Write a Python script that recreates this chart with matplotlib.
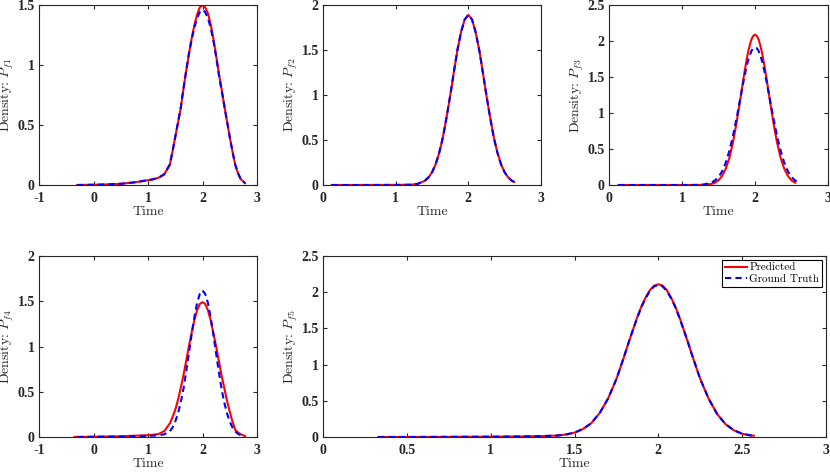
import matplotlib
matplotlib.use('Agg')
import matplotlib.pyplot as plt
import numpy as np

plt.rcParams['mathtext.fontset'] = 'cm'
plt.rcParams['axes.unicode_minus'] = False

# ---- data (time, density) ----
t1 = [-0.3, 0.0, 0.25, 0.5, 0.75, 1.0, 1.1, 1.2, 1.3, 1.4, 1.45, 1.5, 1.55, 1.6, 1.65, 1.7, 1.75, 1.8,
      1.85, 1.9, 1.95, 2.0, 2.05, 2.1, 2.15, 2.2, 2.25, 2.3, 2.35, 2.4, 2.45, 2.5, 2.55, 2.6, 2.65,
      2.7, 2.78]
p1_pred = [0.0, 0.002, 0.005, 0.01, 0.022, 0.04, 0.048, 0.062, 0.09, 0.17, 0.28, 0.40, 0.52, 0.64,
           0.80, 0.95, 1.09, 1.22, 1.33, 1.42, 1.48, 1.50, 1.48, 1.43, 1.34, 1.22, 1.08, 0.93, 0.80,
           0.66, 0.53, 0.40, 0.28, 0.17, 0.10, 0.05, 0.015]
p1_true = [0.0, 0.002, 0.005, 0.01, 0.022, 0.04, 0.048, 0.062, 0.09, 0.17, 0.28, 0.40, 0.52, 0.64,
           0.80, 0.95, 1.09, 1.21, 1.31, 1.39, 1.44, 1.46, 1.44, 1.39, 1.31, 1.20, 1.07, 0.92, 0.79,
           0.66, 0.53, 0.40, 0.28, 0.17, 0.10, 0.05, 0.015]

t2 = [0.12, 0.5, 1.0, 1.2, 1.3, 1.4, 1.45, 1.5, 1.55, 1.6, 1.65, 1.7, 1.75, 1.8, 1.85, 1.9, 1.95,
      2.0, 2.05, 2.1, 2.15, 2.2, 2.25, 2.3, 2.35, 2.4, 2.45, 2.5, 2.55, 2.6, 2.63]
p2_pred = [0.0, 0.0, 0.001, 0.003, 0.012, 0.046, 0.083, 0.14, 0.23, 0.36, 0.53, 0.75, 0.99, 1.25, 1.50,
           1.70, 1.84, 1.89, 1.84, 1.70, 1.50, 1.25, 0.99, 0.75, 0.53, 0.36, 0.23, 0.14, 0.083, 0.046, 0.035]
p2_true = [0.0, 0.0, 0.001, 0.003, 0.012, 0.046, 0.083, 0.14, 0.23, 0.36, 0.53, 0.75, 0.99, 1.25, 1.50,
           1.70, 1.84, 1.89, 1.84, 1.70, 1.50, 1.25, 0.99, 0.75, 0.53, 0.36, 0.23, 0.14, 0.083, 0.046, 0.035]

t3_pred = [0.13, 0.5, 1.0, 1.2, 1.3, 1.4, 1.45, 1.5, 1.55, 1.6, 1.65, 1.7, 1.75, 1.8, 1.85, 1.875,
           1.9, 1.925, 1.95, 1.975, 2.0, 2.025, 2.05, 2.075, 2.1, 2.125, 2.15, 2.2, 2.25, 2.3, 2.35,
           2.4, 2.45, 2.5, 2.55]
p3_pred = [0.0, 0.0, 0.0, 0.0005, 0.0024, 0.014, 0.032, 0.065, 0.126, 0.228, 0.38, 0.60, 0.88, 1.20,
           1.53, 1.68, 1.82, 1.93, 2.02, 2.07, 2.09, 2.07, 2.02, 1.93, 1.82, 1.68, 1.53, 1.20, 0.88,
           0.60, 0.38, 0.228, 0.126, 0.065, 0.032]
t3_true = [0.13, 0.5, 1.0, 1.2, 1.3, 1.4, 1.45, 1.5, 1.55, 1.6, 1.65, 1.7, 1.75, 1.8, 1.85, 1.875,
           1.9, 1.925, 1.95, 1.975, 2.0, 2.025, 2.05, 2.075, 2.1, 2.125, 2.15, 2.2, 2.25, 2.3, 2.35,
           2.4, 2.45, 2.5, 2.55, 2.6]
p3_true = [0.0, 0.0, 0.0, 0.001, 0.0074, 0.032, 0.062, 0.11, 0.19, 0.31, 0.48, 0.69, 0.94, 1.21,
           1.48, 1.60, 1.71, 1.79, 1.86, 1.90, 1.91, 1.90, 1.86, 1.79, 1.71, 1.60, 1.48, 1.21, 0.94,
           0.69, 0.48, 0.31, 0.19, 0.11, 0.062, 0.032]

t4_pred = [-0.35, 0.0, 0.5, 1.0, 1.1, 1.2, 1.3, 1.4, 1.45, 1.5, 1.55, 1.6, 1.65, 1.7, 1.75, 1.8, 1.85,
           1.9, 1.95, 2.0, 2.05, 2.1, 2.15, 2.2, 2.25, 2.3, 2.35, 2.4, 2.45, 2.5, 2.55, 2.6, 2.65,
           2.7, 2.78]
p4_pred = [0.0, 0.003, 0.008, 0.02, 0.025, 0.035, 0.065, 0.15, 0.22, 0.30, 0.41, 0.54, 0.68, 0.84,
           1.00, 1.15, 1.29, 1.40, 1.47, 1.49, 1.47, 1.40, 1.29, 1.15, 1.00, 0.84, 0.68, 0.54, 0.40,
           0.28, 0.17, 0.08, 0.05, 0.03, 0.01]
t4_true = [-0.3, 0.0, 0.5, 1.0, 1.1, 1.2, 1.3, 1.4, 1.45, 1.5, 1.55, 1.6, 1.65, 1.7, 1.75, 1.8, 1.85,
           1.9, 1.95, 2.0, 2.05, 2.1, 2.15, 2.2, 2.25, 2.3, 2.35, 2.4, 2.45, 2.5, 2.55, 2.6, 2.65, 2.72]
p4_true = [0.0, 0.002, 0.005, 0.012, 0.015, 0.02, 0.03, 0.062, 0.105, 0.17, 0.26, 0.38, 0.53, 0.72,
           0.92, 1.13, 1.32, 1.48, 1.58, 1.62, 1.58, 1.48, 1.32, 1.13, 0.92, 0.72, 0.53, 0.38, 0.26,
           0.17, 0.105, 0.062, 0.035, 0.015]

t5 = [0.33, 0.5, 1.0, 1.2, 1.3, 1.4, 1.45, 1.5, 1.55, 1.6, 1.65, 1.7, 1.75, 1.775, 1.8, 1.825, 1.85,
      1.875, 1.9, 1.925, 1.95, 1.975, 2.0, 2.025, 2.05, 2.075, 2.1, 2.125, 2.15, 2.175, 2.2, 2.225,
      2.25, 2.3, 2.35, 2.4, 2.45, 2.5, 2.55, 2.57]
p5_pred = [0.0, 0.0, 0.004, 0.008, 0.012, 0.02, 0.035, 0.06, 0.11, 0.19, 0.33, 0.53, 0.80, 0.97, 1.14,
           1.32, 1.49, 1.66, 1.81, 1.93, 2.03, 2.09, 2.11, 2.09, 2.03, 1.93, 1.81, 1.66, 1.49, 1.32,
           1.14, 0.97, 0.80, 0.53, 0.32, 0.179, 0.093, 0.045, 0.022, 0.018]
p5_true = [0.0, 0.0, 0.004, 0.008, 0.012, 0.02, 0.035, 0.06, 0.11, 0.19, 0.33, 0.53, 0.80, 0.97, 1.14,
           1.32, 1.49, 1.65, 1.80, 1.92, 2.02, 2.08, 2.10, 2.08, 2.02, 1.92, 1.80, 1.65, 1.49, 1.32,
           1.14, 0.97, 0.80, 0.53, 0.32, 0.179, 0.093, 0.045, 0.022, 0.018]

xt_wide = [-1, 0, 1, 2, 3]
xt_short = [0, 1, 2, 3]
xt_long = [0, 0.5, 1, 1.5, 2, 2.5, 3]
yt_15 = [0, 0.5, 1, 1.5]
yt_2 = [0, 0.5, 1, 1.5, 2]
yt_25 = [0, 0.5, 1, 1.5, 2, 2.5]

W, H = 830, 472
fig = plt.figure(figsize=(W / 100, H / 100), dpi=100)

def box(l, r, t, b):
    return [l / W, 1 - b / H, (r - l) / W, (b - t) / H]

panels = [
    (box(39, 257, 5, 185), t1, p1_pred, t1, p1_true, (-1, 3), (0, 1.5), xt_wide, yt_15, r'$P_{f1}$'),
    (box(323, 541, 5, 185), t2, p2_pred, t2, p2_true, (0, 3), (0, 2), xt_short, yt_2, r'$P_{f2}$'),
    (box(609, 828, 5, 185), t3_pred, p3_pred, t3_true, p3_true, (0, 3), (0, 2.5), xt_short, yt_25, r'$P_{f3}$'),
    (box(39, 257, 256, 437), t4_pred, p4_pred, t4_true, p4_true, (-1, 3), (0, 2), xt_wide, yt_2, r'$P_{f4}$'),
    (box(323, 826, 256, 437), t5, p5_pred, t5, p5_true, (0, 3), (0, 2.5), xt_long, yt_25, r'$P_{f5}$'),
]

dark = '#262626'
def fmt(v):
    return ('%g' % v)

for i, (pos, tp, yp, tt, yt, xl, yl, xts, yts, lab) in enumerate(panels):
    ax = fig.add_axes(pos)
    ax.plot(tp, yp, color='r', lw=1.5, label='Predicted')
    ax.plot(tt, yt, color='b', lw=1.5, ls=(0, (3, 2)), label='Ground Truth')
    ax.set_xlim(xl)
    ax.set_ylim(yl)
    ax.set_xticks(xts)
    ax.set_yticks(yts)
    ax.set_xticklabels([fmt(v) for v in xts], fontfamily='Liberation Serif', fontweight='bold', fontsize=10)
    ax.set_yticklabels([fmt(v) for v in yts], fontfamily='Liberation Serif', fontweight='bold', fontsize=10)
    ax.tick_params(direction='in', top=True, right=True, length=3, width=0.8, colors=dark)
    ax.tick_params(axis='x', pad=5)
    ax.tick_params(axis='y', pad=3)
    for s in ax.spines.values():
        s.set_color(dark)
        s.set_linewidth(0.8)
    wpx = pos[2] * W
    hpx = pos[3] * H
    ax.set_xlabel('Time', fontfamily='cmr10', fontsize=10, color=dark)
    ax.xaxis.set_label_coords(0.5, -21 / hpx)
    ax.set_ylabel('Density: ' + lab, fontfamily='cmr10', fontsize=10, color=dark)
    ax.yaxis.set_label_coords(-23 / wpx, 0.5)
    if i == 4:
        leg = ax.legend(loc='upper right', fancybox=False, framealpha=1,
                        edgecolor='black', borderaxespad=0.35, handlelength=2.0,
                        handletextpad=0.2, borderpad=0.25, labelspacing=0.15,
                        prop={'family': 'cmr10', 'size': 8})
        leg.get_frame().set_linewidth(0.8)

fig.savefig('out.png', dpi=100)
